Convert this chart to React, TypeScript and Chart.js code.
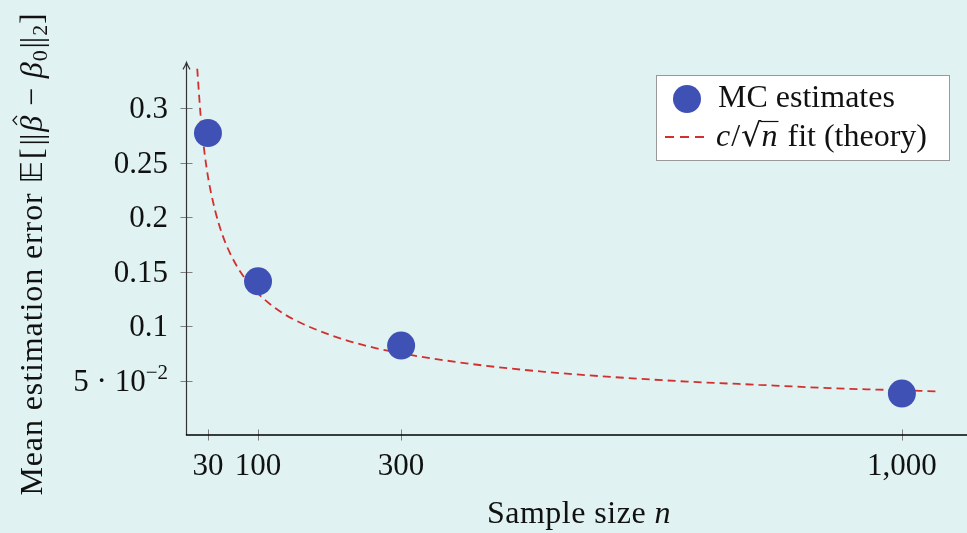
import React, { useEffect, useRef } from 'react';
import { Chart, registerables } from 'chart.js';
Chart.register(...registerables);

// ---- data ----
const sampleSizes = [30, 100, 300, 1000];
const mcEstimates = [0.277, 0.141, 0.082, 0.038];
const fitN = [15, 20, 25, 30, 40, 50, 60, 75, 100, 125, 150, 200, 250, 300, 400, 500, 600, 700, 800, 900, 1000, 1050];
const fitValues = [0.336, 0.291, 0.26, 0.237, 0.206, 0.184, 0.168, 0.15, 0.13, 0.116, 0.106, 0.092, 0.082, 0.075, 0.065, 0.058, 0.053, 0.049, 0.046, 0.043, 0.041, 0.04];
const xTickValues = [30, 100, 300, 1000];
const xTickLabels = ['30', '100', '300', '1,000'];
const yTickValues = [0.05, 0.1, 0.15, 0.2, 0.25, 0.3];
const yTickLabels = ['5 · 10|−2', '0.1', '0.15', '0.2', '0.25', '0.3'];

const BG = '#e0f2f1';
const BLUE = '#3f51b5';
const RED = '#d32f2f';
const SERIF = '"Liberation Serif", "DejaVu Serif", serif';
const FS = 32;
const TFS = 31;

type Seg = { t: string; font: string; dy?: number; dx?: number };

function drawSegs(ctx: CanvasRenderingContext2D, segs: Seg[], x: number, y: number) {
  let cx = x;
  const pos: number[] = [];
  for (const s of segs) {
    ctx.font = s.font;
    cx += s.dx || 0;
    pos.push(cx);
    ctx.fillText(s.t, cx, y + (s.dy || 0));
    cx += ctx.measureText(s.t).width;
  }
  return { end: cx, pos };
}
function segsWidth(ctx: CanvasRenderingContext2D, segs: Seg[]) {
  let w = 0;
  for (const s of segs) {
    ctx.font = s.font;
    w += (s.dx || 0) + ctx.measureText(s.t).width;
  }
  return w;
}

const rom = (sz = FS) => `${sz}px ${SERIF}`;
const ita = (sz = FS) => `italic ${sz}px ${SERIF}`;

const decorPlugin = {
  id: 'decor',
  beforeDraw(chart: any) {
    const ctx = chart.ctx as CanvasRenderingContext2D;
    ctx.save();
    ctx.fillStyle = BG;
    ctx.fillRect(0, 0, chart.width, chart.height);
    ctx.restore();
  },
  beforeDatasetsDraw(chart: any) {
    const ctx = chart.ctx as any;
    const xs = chart.scales.x;
    const ys = chart.scales.y;
    const x0 = xs.getPixelForValue(0);
    const y0 = ys.getPixelForValue(0);
    const yTop = ys.getPixelForValue(ys.max);
    ctx.save();
    // ticks
    ctx.strokeStyle = '#808080';
    ctx.lineWidth = 1;
    for (const v of yTickValues) {
      const py = Math.round(ys.getPixelForValue(v)) + 0.5;
      ctx.beginPath();
      ctx.moveTo(x0 - 6, py);
      ctx.lineTo(x0 + 6, py);
      ctx.stroke();
    }
    for (const v of xTickValues) {
      const px = Math.round(xs.getPixelForValue(v)) + 0.5;
      ctx.beginPath();
      ctx.moveTo(px, y0 - 5.5);
      ctx.lineTo(px, y0 + 5.5);
      ctx.stroke();
    }
    // y axis
    ctx.strokeStyle = '#333';
    ctx.lineWidth = 1.2;
    ctx.beginPath();
    ctx.moveTo(x0, y0);
    ctx.lineTo(x0, yTop - 1);
    ctx.stroke();
    ctx.beginPath();
    ctx.moveTo(x0 - 3.5, yTop + 5);
    ctx.quadraticCurveTo(x0 - 1, yTop + 1, x0, yTop - 2);
    ctx.quadraticCurveTo(x0 + 1, yTop + 1, x0 + 3.5, yTop + 5);
    ctx.stroke();
    // x axis
    ctx.strokeStyle = '#000';
    ctx.lineWidth = 1.4;
    ctx.beginPath();
    ctx.moveTo(x0 - 0.6, y0);
    ctx.lineTo(chart.width, y0);
    ctx.stroke();

    // tick labels
    ctx.fillStyle = '#111';
    ctx.textBaseline = 'alphabetic';
    yTickValues.forEach((v: number, i: number) => {
      const py = ys.getPixelForValue(v) + 10;
      const lab = yTickLabels[i];
      let segs: Seg[];
      if (lab.includes('|')) {
        const [base, sup] = lab.split('|');
        segs = [{ t: base, font: rom(TFS) }, { t: sup, font: rom(21), dy: -12 }];
      } else {
        segs = [{ t: lab, font: rom(TFS) }];
      }
      const w = segsWidth(ctx, segs);
      ctx.textAlign = 'left';
      drawSegs(ctx, segs, 168 - w, py);
    });
    ctx.textAlign = 'center';
    ctx.font = rom(TFS);
    xTickValues.forEach((v: number, i: number) => {
      ctx.fillText(xTickLabels[i], xs.getPixelForValue(v), 475);
    });

    // x title
    ctx.textAlign = 'left';
    ctx.letterSpacing = '0.5px';
    const xt: Seg[] = [{ t: 'Sample size ', font: rom() }, { t: 'n', font: ita() }];
    const xw = segsWidth(ctx, xt);
    drawSegs(ctx, xt, 579 - xw / 2, 523);

    // y title (rotated)
    ctx.save();
    ctx.letterSpacing = '0.9px';
    const yt: Seg[] = [
      { t: 'Mean estimation error ', font: rom() },
      { t: '𝔼', font: `${FS - 1}px "DejaVu Sans", serif` },
      { t: '[', font: rom(), dx: 1 },
      { t: '|', font: rom(), dx: 2 },
      { t: '|', font: rom(), dx: -2 },
      { t: 'β', font: ita(), dx: 1 },
      { t: ' − ', font: rom() },
      { t: 'β', font: ita() },
      { t: '0', font: rom(22), dy: 5 },
      { t: '|', font: rom(), dx: 1 },
      { t: '|', font: rom(), dx: -2 },
      { t: '2', font: rom(22), dy: 5 },
      { t: ']', font: rom() },
    ];
    const yw = segsWidth(ctx, yt);
    ctx.translate(42, 254 + yw / 2);
    ctx.rotate(-Math.PI / 2);
    const r = drawSegs(ctx, yt, 0, 0);
    // hat over first beta
    ctx.font = ita();
    const bw = ctx.measureText('β').width;
    const hc = r.pos[5] + bw / 2 + 3;
    ctx.strokeStyle = '#111';
    ctx.lineWidth = 1.3;
    ctx.beginPath();
    ctx.moveTo(hc - 4.5, -25);
    ctx.lineTo(hc, -29);
    ctx.lineTo(hc + 4.5, -25);
    ctx.stroke();
    ctx.restore();
    ctx.restore();
  },
  afterDraw(chart: any) {
    const ctx = chart.ctx as CanvasRenderingContext2D;
    ctx.save();
    // legend box
    ctx.fillStyle = '#ffffff';
    ctx.fillRect(656, 75.5, 294, 85);
    ctx.strokeStyle = '#999';
    ctx.lineWidth = 1;
    ctx.strokeRect(656.5, 75.5, 293, 85);
    // entry 1
    ctx.fillStyle = BLUE;
    ctx.beginPath();
    ctx.arc(687, 99, 14, 0, Math.PI * 2);
    ctx.fill();
    ctx.fillStyle = '#111';
    ctx.textAlign = 'left';
    ctx.textBaseline = 'alphabetic';
    ctx.font = rom();
    ctx.fillText('MC estimates', 718, 107);
    // entry 2
    ctx.strokeStyle = RED;
    ctx.lineWidth = 2;
    ctx.setLineDash([9, 6]);
    ctx.beginPath();
    ctx.moveTo(665, 137);
    ctx.lineTo(705, 137);
    ctx.stroke();
    ctx.setLineDash([]);
    const segs: Seg[] = [
      { t: 'c', font: ita() },
      { t: '/', font: rom(), dx: 1 },
      { t: '√', font: `${FS}px "DejaVu Serif", serif`, dx: 1 },
      { t: 'n', font: ita() },
      { t: ' fit (theory)', font: rom(), dx: 2 },
    ];
    const r = drawSegs(ctx, segs, 716, 146);
    // sqrt overbar
    ctx.strokeStyle = '#111';
    ctx.lineWidth = 1.2;
    ctx.font = ita();
    const nw = ctx.measureText('n').width;
    ctx.beginPath();
    ctx.moveTo(r.pos[3] - 1, 121.5);
    ctx.lineTo(r.pos[3] + nw + 1, 121.5);
    ctx.stroke();
    ctx.restore();
  },
};

export default function App() {
  const ref = useRef<HTMLCanvasElement>(null);
  useEffect(() => {
    document.body.style.margin = '0';
    const canvas = ref.current!;
    const chart = new Chart(canvas, {
      type: 'scatter',
      data: {
        datasets: [
          {
            label: 'MC estimates',
            data: sampleSizes.map((n, i) => ({ x: n, y: mcEstimates[i] })),
            backgroundColor: BLUE,
            borderWidth: 0,
            pointRadius: 14,
            pointHoverRadius: 14,
            showLine: false,
            order: 0,
          },
          {
            label: 'c/√n fit (theory)',
            data: fitN.map((n, i) => ({ x: n, y: fitValues[i] })),
            borderColor: RED,
            borderWidth: 1.8,
            borderDash: [8, 5],
            pointRadius: 0,
            showLine: true,
            tension: 0.4,
            cubicInterpolationMode: 'monotone',
            order: 1,
            clip: false as any,
          } as any,
        ],
      },
      options: {
        animation: false,
        responsive: false,
        devicePixelRatio: 1,
        layout: { autoPadding: false, padding: { left: 186.5, top: 64.4, right: 0, bottom: 98 } },
        plugins: { legend: { display: false }, tooltip: { enabled: false } },
        events: [],
        scales: {
          x: { type: 'linear', min: 0, max: 1091, display: false },
          y: { type: 'linear', min: 0, max: 0.34, display: false },
        },
      },
      plugins: [decorPlugin],
    });
    return () => chart.destroy();
  }, []);
  return (
    <div style={{ position: 'absolute', left: 0, top: 0, width: 967, height: 533 }}>
      <canvas ref={ref} width={967} height={533} />
    </div>
  );
}
